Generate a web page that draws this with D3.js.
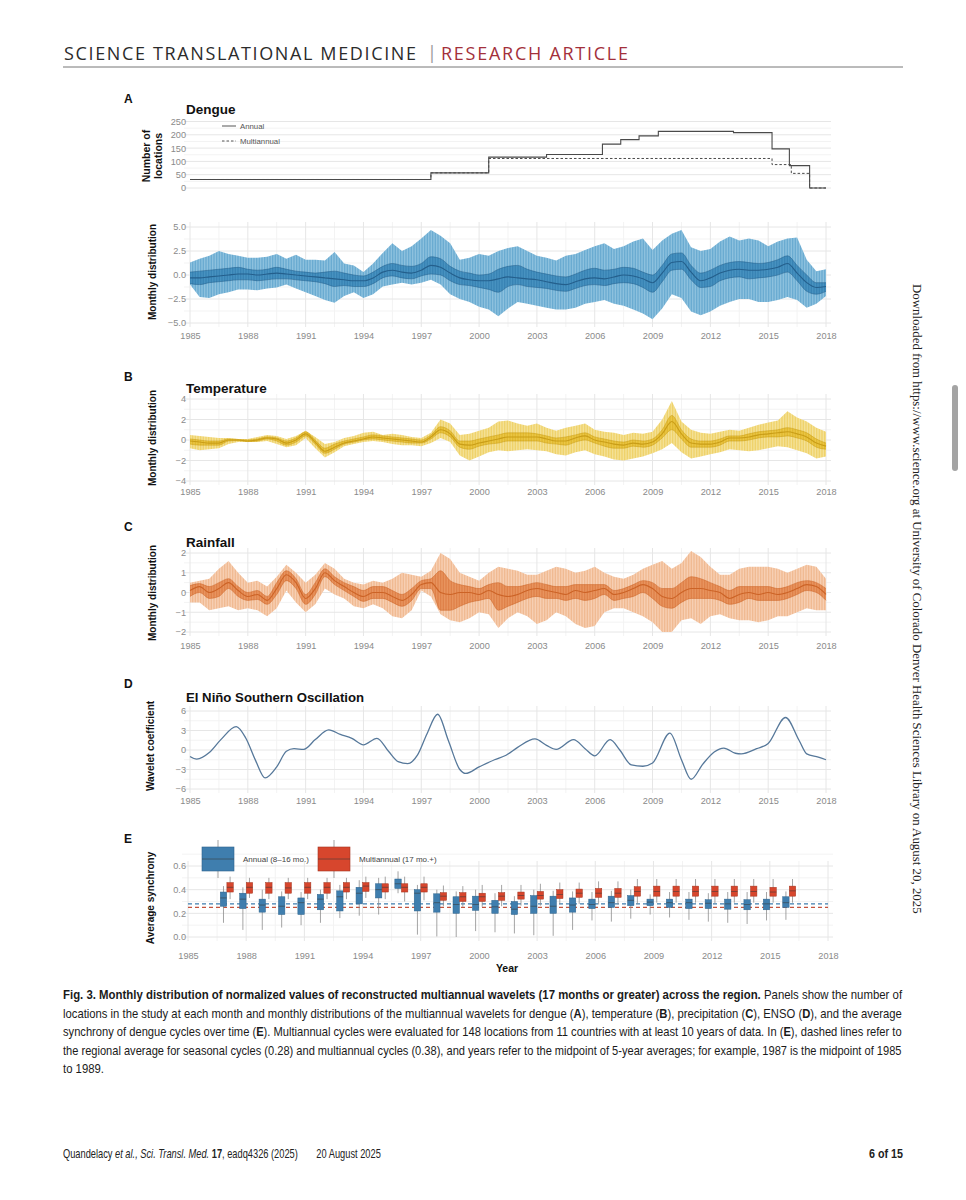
<!DOCTYPE html>
<html>
<head>
<meta charset="utf-8">
<script src="https://cdn.jsdelivr.net/npm/d3@7"></script>
<style>
  body { margin: 0; background: #fff; }
  svg { display: block; font-family: "Liberation Sans", Arial, sans-serif; }
</style>
</head>
<body>
<svg id="page" width="966" height="1200"></svg>
<script>
// ---- data ----
const YEAR_TICKS = [1985, 1988, 1991, 1994, 1997, 2000, 2003, 2006, 2009, 2012, 2015, 2018];
const SAMPLE_YEARS = d3.range(1985, 2018.25, 0.5); // half-year samples

// (A) number of locations, step changes
const LOC_ANNUAL_YEARS = [1985, 1997.5, 2000.5, 2003.5, 2006.4, 2007.35, 2008.3, 2009.3, 2013.2, 2015.2, 2016.1, 2017.15, 2018];
const LOC_ANNUAL = [32, 57, 116, 126, 165, 182, 196, 213, 208, 147, 84, 0, 0];
const LOC_MULTI_YEARS = [1985, 1997.5, 2000.5, 2015.2, 2016.2, 2017.15, 2018];
const LOC_MULTI = [32, 57, 111, 88, 55, 0, 0];

// (A) dengue monthly distribution (whisker low, q1, median, q3, whisker high)
const DENGUE_MAX = [
  1.3, 1.7, 2.0, 2.5, 2.2, 2.0, 1.8, 1.8, 1.9, 2.2, 1.7, 2.1,
  1.6, 1.6, 1.5, 2.4, 1.2, 1.0, 0.3, 1.2, 2.3, 3.3, 2.5, 3.0,
  3.8, 4.7, 4.1, 3.3, 1.6, 1.8, 2.2, 2.0, 2.5, 2.8, 3.0, 2.5,
  2.0, 1.8, 1.5, 2.0, 2.2, 2.6, 3.0, 3.3, 2.7, 3.0, 3.5, 3.8,
  2.6, 3.6, 4.3, 4.7, 2.9, 2.5, 2.7, 3.5, 4.0, 3.6, 3.8, 3.6,
  3.0, 3.5, 3.8, 3.9, 1.6, 0.4, 0.6];
const DENGUE_MIN = [
  -1.0, -2.3, -2.4, -2.0, -1.8, -1.5, -1.5, -1.6, -1.4, -1.3, -1.0, -1.4,
  -1.8, -2.2, -2.6, -2.9, -2.2, -1.8, -2.4, -2.0, -1.2, -1.0, -0.8, -1.0,
  -0.8, -0.5, -1.0, -2.0, -2.5, -2.8, -3.3, -3.6, -4.3, -3.5, -2.8, -3.0,
  -3.2, -3.4, -3.6, -3.6, -3.4, -3.0, -2.8, -2.6, -3.0, -3.2, -3.6, -4.0,
  -4.6, -3.5, -2.0, -2.4, -3.8, -4.2, -3.8, -3.2, -2.8, -2.5, -2.5, -2.8,
  -2.8, -2.6, -2.3, -2.6, -3.4, -3.0, -2.2];
const DENGUE_MED = [
  -0.3, -0.3, -0.2, -0.1, 0.0, 0.1, 0.1, 0.0, 0.1, 0.2, 0.1, 0.0,
  -0.1, -0.2, -0.3, -0.4, -0.5, -0.6, -0.6, -0.3, 0.3, 0.5, 0.3, 0.2,
  0.5, 1.0, 0.8, 0.2, -0.3, -0.5, -0.6, -0.6, -0.4, -0.2, -0.3, -0.4,
  -0.5, -0.7, -0.9, -1.0, -0.7, -0.4, -0.3, -0.4, -0.2, 0.0, -0.1, -0.4,
  -0.8, 0.2, 1.3, 1.4, 0.3, -0.6, -0.3, 0.2, 0.5, 0.6, 0.5, 0.5,
  0.6, 0.8, 1.2, 0.2, -0.8, -1.3, -1.2];
const DENGUE_Q3 = [
  0.3, 0.4, 0.5, 0.6, 0.7, 0.8, 0.6, 0.5, 0.6, 0.8, 0.6, 0.4,
  0.3, 0.2, 0.3, 0.4, 0.2, 0.0, -0.1, 0.3, 0.9, 1.2, 1.0, 0.9,
  1.2, 1.9, 1.7, 0.9, 0.4, 0.2, 0.0, 0.1, 0.6, 0.9, 1.0, 0.6,
  0.3, 0.1, -0.1, -0.2, 0.1, 0.5, 0.7, 0.5, 0.6, 0.8, 0.7, 0.3,
  0.0, 1.0, 2.2, 2.3, 1.0, 0.2, 0.5, 1.0, 1.3, 1.4, 1.3, 1.2,
  1.3, 1.6, 2.0, 1.0, 0.0, -0.8, -0.8];
const DENGUE_Q1 = [
  -0.9, -1.0, -0.8, -0.7, -0.6, -0.5, -0.5, -0.6, -0.5, -0.4, -0.4, -0.5,
  -0.6, -0.7, -0.9, -1.2, -1.1, -1.2, -1.2, -0.9, -0.3, -0.1, -0.3, -0.4,
  -0.1, 0.1, 0.0, -0.6, -1.0, -1.1, -1.3, -1.5, -1.8, -1.2, -1.0, -1.2,
  -1.3, -1.4, -1.6, -1.7, -1.4, -1.1, -1.0, -1.1, -0.9, -0.8, -0.9, -1.3,
  -1.8, -0.7, 0.5, 0.6, -0.5, -1.3, -1.2, -0.6, -0.3, -0.2, -0.4, -0.3,
  -0.2, 0.0, 0.3, -0.6, -1.7, -2.0, -1.7];

// (B) temperature
const TEMP_MAX = [
  0.5, 0.4, 0.3, 0.2, 0.2, 0.1, 0.1, 0.3, 0.5, 0.4, 0.1, 0.4,
  0.9, 0.3, -0.4, -0.2, 0.2, 0.4, 0.7, 0.8, 0.5, 0.6, 0.5, 0.3,
  0.2, 0.7, 2.0, 1.6, 0.5, 0.6, 0.9, 1.2, 1.8, 1.9, 1.6, 1.4,
  1.6, 1.2, 0.9, 1.2, 1.4, 1.6, 1.0, 0.8, 0.7, 0.5, 0.7, 0.6,
  0.8, 2.0, 3.8, 1.8, 1.0, 0.7, 0.6, 0.8, 1.0, 0.9, 1.2, 1.5,
  1.7, 1.9, 2.8, 2.2, 1.8, 1.2, 0.8];
const TEMP_MIN = [
  -0.8, -1.0, -0.9, -0.8, -0.4, -0.2, -0.2, -0.2, -0.1, -0.4, -0.7, -0.5,
  0.2, -0.8, -1.7, -1.2, -0.6, -0.4, -0.2, -0.1, -0.2, -0.4, -0.5, -0.5,
  -0.6, -0.3, 0.2, -0.2, -1.5, -2.0, -1.6, -1.2, -1.0, -1.1, -1.0, -0.9,
  -1.0, -1.1, -1.4, -1.5, -1.2, -1.0, -1.4, -1.6, -1.9, -2.0, -1.8, -1.6,
  -1.3, -0.9, -0.3, -1.2, -1.8, -1.6, -1.4, -1.2, -0.9, -1.0, -1.1, -1.0,
  -0.8, -0.6, -0.7, -1.0, -1.3, -1.8, -1.6];
const TEMP_MED = [
  -0.1, -0.2, -0.3, -0.3, 0.0, 0.0, -0.1, 0.0, 0.2, 0.1, -0.3, 0.0,
  0.6, -0.2, -1.1, -0.7, -0.3, -0.1, 0.1, 0.3, 0.2, 0.1, 0.0, -0.1,
  -0.2, 0.3, 1.0, 0.6, -0.4, -0.5, -0.3, -0.1, 0.1, 0.3, 0.3, 0.3,
  0.3, 0.1, -0.1, -0.1, 0.2, 0.4, 0.0, -0.2, -0.4, -0.5, -0.3, -0.4,
  -0.2, 0.6, 1.8, 0.6, -0.3, -0.4, -0.4, -0.2, 0.2, 0.2, 0.3, 0.5,
  0.6, 0.7, 0.8, 0.6, 0.3, -0.3, -0.6];
const TEMP_Q3 = [
  0.1, 0.0, -0.1, -0.1, 0.1, 0.05, 0.0, 0.1, 0.3, 0.2, -0.1, 0.2,
  0.8, 0.0, -0.8, -0.4, -0.1, 0.1, 0.3, 0.5, 0.4, 0.3, 0.2, 0.1,
  0.0, 0.5, 1.3, 0.9, -0.1, -0.1, 0.1, 0.3, 0.5, 0.7, 0.7, 0.7,
  0.6, 0.4, 0.2, 0.3, 0.5, 0.7, 0.3, 0.1, -0.1, -0.2, 0.0, -0.1,
  0.1, 1.0, 2.4, 1.0, 0.1, -0.1, -0.1, 0.1, 0.4, 0.4, 0.6, 0.8,
  0.9, 1.0, 1.2, 1.0, 0.7, 0.1, -0.3];
const TEMP_Q1 = [
  -0.4, -0.5, -0.5, -0.5, -0.1, -0.05, -0.15, -0.1, 0.1, -0.1, -0.5, -0.2,
  0.4, -0.4, -1.3, -0.9, -0.4, -0.2, 0.0, 0.1, 0.0, -0.1, -0.2, -0.3,
  -0.3, 0.1, 0.7, 0.3, -0.7, -0.9, -0.6, -0.4, -0.3, -0.1, -0.1, -0.1,
  -0.1, -0.3, -0.4, -0.5, -0.2, 0.0, -0.3, -0.6, -0.8, -0.8, -0.6, -0.7,
  -0.5, 0.2, 1.0, 0.1, -0.7, -0.7, -0.7, -0.5, -0.1, -0.1, 0.0, 0.2,
  0.3, 0.3, 0.4, 0.2, -0.1, -0.7, -0.9];

// (C) rainfall
const RAIN_MAX = [
  0.5, 0.6, 0.7, 1.2, 1.6, 1.0, 0.5, 0.6, 0.3, 0.8, 1.4, 1.0,
  0.5, 0.9, 1.5, 1.2, 0.7, 0.5, 0.4, 0.6, 0.5, 0.7, 1.0, 0.9,
  0.8, 1.1, 2.0, 1.7, 1.0, 0.8, 0.6, 1.0, 1.3, 1.2, 1.1, 0.9,
  0.9, 1.1, 1.3, 1.2, 1.0, 1.1, 1.3, 1.0, 0.8, 0.7, 0.9, 1.2,
  1.4, 1.6, 1.2, 1.5, 2.1, 1.8, 1.3, 0.9, 0.9, 1.2, 1.3, 1.3,
  1.3, 1.2, 1.0, 1.2, 1.4, 1.3, 0.7];
const RAIN_MIN = [
  -0.5, -0.5, -0.9, -0.8, -0.7, -0.9, -0.8, -0.9, -1.2, -0.8, 0.1, -0.5,
  -1.0, -0.6, 0.2, -0.1, -0.3, -0.7, -0.8, -0.6, -0.8, -1.2, -1.3, -0.9,
  0.1, -0.2, -1.1, -1.4, -1.5, -1.3, -1.0, -1.1, -1.8, -1.3, -1.0, -1.2,
  -1.6, -1.4, -1.0, -1.2, -1.6, -1.8, -1.7, -1.0, -0.8, -0.8, -1.0, -1.2,
  -1.5, -2.0, -2.0, -1.4, -1.3, -1.6, -1.2, -1.1, -1.3, -1.4, -1.4, -1.5,
  -1.4, -1.2, -1.2, -1.0, -0.8, -0.9, -0.9];
const RAIN_MED = [
  0.1, 0.3, 0.0, 0.2, 0.5, 0.1, -0.2, -0.1, -0.4, 0.2, 0.9, 0.5,
  -0.3, 0.2, 1.0, 0.6, 0.3, 0.0, -0.2, 0.0, 0.0, -0.2, -0.4, -0.1,
  0.4, 0.5, 0.0, -0.1, 0.0, 0.0, -0.1, 0.1, -0.1, -0.2, -0.1, 0.1,
  0.2, 0.1, 0.0, -0.1, 0.1, 0.0, 0.1, 0.2, -0.1, 0.0, 0.2, 0.4,
  0.2, -0.2, -0.3, 0.0, 0.2, 0.2, 0.1, 0.0, -0.3, -0.1, 0.0, -0.1,
  0.0, -0.1, 0.0, 0.2, 0.4, 0.3, -0.1];
const RAIN_Q3 = [
  0.35, 0.45, 0.3, 0.5, 0.7, 0.3, 0.0, 0.1, -0.2, 0.5, 1.1, 0.7,
  -0.1, 0.5, 1.2, 0.8, 0.5, 0.3, 0.1, 0.3, 0.3, 0.1, -0.1, 0.2,
  0.6, 0.7, 1.1, 0.6, 0.4, 0.3, 0.2, 0.4, 0.5, 0.3, 0.3, 0.4,
  0.5, 0.4, 0.3, 0.3, 0.4, 0.4, 0.4, 0.4, 0.1, 0.2, 0.4, 0.6,
  0.5, 0.2, 0.2, 0.5, 0.8, 0.7, 0.5, 0.3, 0.1, 0.3, 0.3, 0.3,
  0.3, 0.2, 0.3, 0.5, 0.6, 0.5, 0.2];
const RAIN_Q1 = [
  -0.2, 0.0, -0.3, -0.2, 0.2, -0.2, -0.4, -0.35, -0.6, -0.1, 0.6, 0.2,
  -0.6, -0.1, 0.8, 0.4, 0.1, -0.2, -0.45, -0.3, -0.3, -0.5, -0.7, -0.4,
  0.2, 0.2, -0.9, -0.9, -0.7, -0.5, -0.4, -0.3, -0.9, -0.7, -0.5, -0.3,
  -0.2, -0.3, -0.3, -0.4, -0.3, -0.4, -0.3, -0.1, -0.4, -0.3, -0.2, 0.0,
  -0.3, -0.7, -0.8, -0.5, -0.3, -0.3, -0.3, -0.4, -0.6, -0.5, -0.3, -0.4,
  -0.4, -0.4, -0.3, -0.1, 0.1, 0.0, -0.4];

// (D) ENSO wavelet coefficient, turning points and shoulders
const ENSO_YEARS = [1985.0, 1985.35, 1986.0, 1986.6, 1987.4, 1987.9, 1988.4, 1988.9, 1989.5, 1990.0,
  1990.4, 1990.9, 1991.5, 1992.2, 1992.8, 1993.4, 1994.0, 1994.7, 1995.3, 1995.8,
  1996.3, 1996.8, 1997.3, 1997.85, 1998.4, 1999.0, 1999.3, 2000.0, 2000.8, 2001.4,
  2002.0, 2002.9, 2003.5, 2004.0, 2004.9, 2005.5, 2006.0, 2006.8, 2007.3, 2007.9,
  2008.5, 2009.0, 2009.9, 2010.5, 2011.0, 2011.6, 2012.2, 2012.7, 2013.3, 2013.6,
  2014.4, 2015.0, 2015.9, 2016.6, 2017.0, 2017.6, 2018.0];
const ENSO_VALUES = [-1.0, -1.4, -0.4, 1.6, 3.6, 1.8, -1.6, -4.3, -2.6, -0.2,
  0.2, 0.1, 1.6, 3.1, 2.4, 1.8, 0.8, 1.8, -0.2, -1.8,
  -2.1, -0.8, 2.5, 5.5, 1.5, -3.0, -3.6, -2.6, -1.5, -0.8,
  0.4, 1.7, 0.7, 0.1, 1.6, 0.2, -0.9, 1.6, 0.0, -2.3,
  -2.5, -2.0, 2.6, -1.5, -4.5, -2.2, -0.3, 0.3, -0.5, -0.6,
  0.2, 1.0, 5.0, 1.5, -0.6, -1.1, -1.5];

// (E) average synchrony, 5-year windows (midpoint years)
const SYNC_YEARS = d3.range(1987, 2017);
const ANN_MIN = [0.12, 0.06, 0.06, 0.08, 0.10, 0.12, 0.16, 0.18, 0.19, 0.37, 0.02, 0.005, 0.0, 0.05, 0.04,
  0.03, 0.015, 0.01, 0.06, 0.14, 0.13, 0.155, 0.19, 0.165, 0.145, 0.13, 0.12, 0.11, 0.14, 0.145];
const ANN_Q1 = [0.26, 0.24, 0.21, 0.19, 0.19, 0.23, 0.22, 0.28, 0.33, 0.41, 0.22, 0.21, 0.20, 0.225, 0.20,
  0.19, 0.20, 0.20, 0.21, 0.24, 0.25, 0.265, 0.265, 0.25, 0.24, 0.24, 0.235, 0.23, 0.23, 0.25];
const ANN_MED = [0.33, 0.32, 0.27, 0.26, 0.29, 0.32, 0.34, 0.37, 0.40, 0.45, 0.37, 0.29, 0.275, 0.275, 0.255,
  0.235, 0.26, 0.26, 0.27, 0.275, 0.29, 0.31, 0.295, 0.29, 0.29, 0.285, 0.28, 0.275, 0.28, 0.29];
const ANN_Q3 = [0.38, 0.37, 0.32, 0.34, 0.33, 0.36, 0.39, 0.42, 0.45, 0.49, 0.40, 0.365, 0.34, 0.345, 0.31,
  0.30, 0.35, 0.345, 0.33, 0.32, 0.345, 0.35, 0.32, 0.32, 0.32, 0.315, 0.32, 0.315, 0.32, 0.34];
const ANN_MAX = [0.43, 0.42, 0.40, 0.385, 0.38, 0.40, 0.44, 0.48, 0.50, 0.555, 0.44, 0.40, 0.385, 0.40, 0.37,
  0.345, 0.40, 0.39, 0.385, 0.38, 0.39, 0.40, 0.36, 0.38, 0.38, 0.37, 0.38, 0.38, 0.38, 0.385];
const MUL_MIN = [0.32, 0.33, 0.32, 0.32, 0.32, 0.32, 0.32, 0.33, 0.32, 0.30, 0.31, 0.26, 0.255, 0.255, 0.26,
  0.265, 0.265, 0.275, 0.28, 0.275, 0.275, 0.28, 0.29, 0.29, 0.29, 0.285, 0.29, 0.29, 0.29, 0.29];
const MUL_Q1 = [0.38, 0.37, 0.37, 0.37, 0.37, 0.37, 0.38, 0.385, 0.38, 0.38, 0.38, 0.31, 0.30, 0.30, 0.31,
  0.32, 0.32, 0.325, 0.335, 0.335, 0.335, 0.345, 0.345, 0.345, 0.345, 0.345, 0.345, 0.345, 0.345, 0.345];
const MUL_MED = [0.42, 0.42, 0.42, 0.415, 0.42, 0.42, 0.42, 0.43, 0.42, 0.42, 0.42, 0.345, 0.34, 0.34, 0.345,
  0.35, 0.35, 0.36, 0.37, 0.37, 0.37, 0.385, 0.385, 0.385, 0.385, 0.385, 0.385, 0.385, 0.38, 0.39];
const MUL_Q3 = [0.46, 0.46, 0.46, 0.46, 0.46, 0.46, 0.46, 0.46, 0.45, 0.45, 0.45, 0.375, 0.375, 0.37, 0.375,
  0.38, 0.385, 0.40, 0.405, 0.41, 0.41, 0.425, 0.43, 0.43, 0.43, 0.43, 0.43, 0.43, 0.42, 0.43];
const MUL_MAX = [0.51, 0.50, 0.50, 0.50, 0.50, 0.50, 0.50, 0.51, 0.51, 0.51, 0.51, 0.435, 0.43, 0.44, 0.44,
  0.44, 0.45, 0.46, 0.46, 0.47, 0.47, 0.49, 0.49, 0.49, 0.49, 0.49, 0.49, 0.49, 0.49, 0.49];
const ANN_MEAN = 0.28;
const MUL_MEAN = 0.25;

// ---- page ----
const svg = d3.select('#page');
const defs = svg.append('defs');
const GRID = '#e6e6e6', GRID_MINOR = '#f3f3f3';
const TICK_COLOR = '#8a8a8a';

const x = d3.scaleLinear().domain([1985, 2018]).range([190, 826]);
const xE = d3.scaleLinear().domain([1985, 2018]).range([188, 828]);
const YEAR_MINOR = d3.pairs(YEAR_TICKS).map(([a, b]) => (a + b) / 2);

function stripes(id, base, stripe) {
  const p = defs.append('pattern').attr('id', id)
    .attr('patternUnits', 'userSpaceOnUse').attr('width', 1.6).attr('height', 10);
  p.append('rect').attr('width', 1.6).attr('height', 10).attr('fill', base);
  p.append('rect').attr('width', 0.8).attr('height', 10).attr('fill', stripe);
}
stripes('blue-light', '#93c5e0', '#64a7cf');
stripes('blue-dark', '#4a94c2', '#3580b2');
stripes('yel-light', '#f5e39c', '#eed064');
stripes('yel-dark', '#ebc847', '#dfb62c');
stripes('org-light', '#f8d3b8', '#efb68d');
stripes('org-dark', '#e99762', '#de7e45');

// squeeze a text horizontally to a measured width (keeps tspans together)
function fit(t, tx, ty, width, extra = '') {
  const w = t.node().getComputedTextLength();
  t.attr('x', 0).attr('y', 0)
    .attr('transform', `translate(${tx},${ty}) ${extra} scale(${width / w},1)`);
}

function panel({ xs, domain, range, ticks, minor, fmt, labelY, vGrid = true }) {
  const y = d3.scaleLinear().domain(domain).range(range);
  const g = svg.append('g');
  const left = xs(1985) - 6, right = xs(2018) + 5;
  const top = range[1] - 5, bottom = range[0] + 4;

  g.selectAll('line.hmin').data(minor).join('line').attr('class', 'hmin')
    .attr('x1', left).attr('x2', right).attr('y1', d => y(d)).attr('y2', d => y(d))
    .attr('stroke', GRID_MINOR);
  if (vGrid) {
    g.selectAll('line.vmin').data(YEAR_MINOR).join('line').attr('class', 'vmin')
      .attr('x1', d => xs(d)).attr('x2', d => xs(d)).attr('y1', top).attr('y2', bottom)
      .attr('stroke', GRID_MINOR);
    g.selectAll('line.vmaj').data(YEAR_TICKS).join('line').attr('class', 'vmaj')
      .attr('x1', d => xs(d)).attr('x2', d => xs(d)).attr('y1', top).attr('y2', bottom)
      .attr('stroke', GRID);
  }
  g.selectAll('line.hmaj').data(ticks).join('line').attr('class', 'hmaj')
    .attr('x1', left).attr('x2', right).attr('y1', d => y(d)).attr('y2', d => y(d))
    .attr('stroke', GRID);

  const ya = g.append('g').attr('transform', 'translate(189,0)')
    .call(d3.axisLeft(y).tickValues(ticks).tickSize(0).tickPadding(3).tickFormat(fmt));
  ya.select('.domain').remove();
  ya.selectAll('text').attr('font-size', 9.2).attr('fill', TICK_COLOR)
    .attr('font-family', '"Liberation Sans", Arial, sans-serif');

  if (labelY) {
    const xa = g.append('g').attr('transform', `translate(0,${labelY - 6.3})`)
      .call(d3.axisBottom(xs).tickValues(YEAR_TICKS).tickSize(0).tickPadding(3).tickFormat(d3.format('d')));
    xa.select('.domain').remove();
    xa.selectAll('text').attr('font-size', 9.2).attr('fill', TICK_COLOR)
      .attr('font-family', '"Liberation Sans", Arial, sans-serif');
  }
  return { g, y };
}

function yTitle(lines, cx, cy, size = 10) {
  const t = svg.append('text')
    .attr('transform', `translate(${cx},${cy}) rotate(-90)`)
    .attr('text-anchor', 'middle').attr('font-weight', 'bold')
    .attr('font-size', size).attr('fill', '#111');
  lines.forEach((l, i) => t.append('tspan').attr('x', 0).attr('dy', i ? '1.1em' : 0).text(l));
}

function label(txt, xp, yp, size, weight = 'bold', color = '#111') {
  return svg.append('text').attr('x', xp).attr('y', yp).attr('font-size', size)
    .attr('font-weight', weight).attr('fill', color).text(txt);
}

function bands(y, lo, q1, med, q3, hi, light, dark, edge) {
  const rows = SAMPLE_YEARS.map((yr, i) => ({ yr, lo: lo[i], q1: q1[i], med: med[i], q3: q3[i], hi: hi[i] }));
  const g = svg.append('g');
  g.append('path').datum(rows)
    .attr('d', d3.area().x(d => x(d.yr)).y0(d => y(d.lo)).y1(d => y(d.hi)))
    .attr('fill', `url(#${light})`);
  g.append('path').datum(rows)
    .attr('d', d3.area().curve(d3.curveMonotoneX).x(d => x(d.yr)).y0(d => y(d.q1)).y1(d => y(d.q3)))
    .attr('fill', `url(#${dark})`);
  ['q1', 'q3'].forEach(k => {
    g.append('path').datum(rows)
      .attr('d', d3.line().curve(d3.curveMonotoneX).x(d => x(d.yr)).y(d => y(d[k])))
      .attr('fill', 'none').attr('stroke', edge).attr('stroke-width', 0.7).attr('opacity', 0.75);
  });
  g.append('path').datum(rows)
    .attr('d', d3.line().curve(d3.curveMonotoneX).x(d => x(d.yr)).y(d => y(d.med)))
    .attr('fill', 'none').attr('stroke', edge).attr('stroke-width', 1.1);
}

// header
const HEAD_FONT = '"Open Sans", "Liberation Sans", sans-serif';
label('SCIENCE TRANSLATIONAL MEDICINE', 64, 60, 18, 'normal', '#2b2b2b')
  .style('font-family', HEAD_FONT).attr('textLength', 352).attr('lengthAdjust', 'spacing');
label('|', 427, 59, 18, 'normal', '#9a9a9a').style('font-family', HEAD_FONT);
label('RESEARCH ARTICLE', 441, 60, 18, 'normal', '#a3303b')
  .style('font-family', HEAD_FONT).attr('textLength', 187).attr('lengthAdjust', 'spacing');
svg.append('line').attr('x1', 63).attr('x2', 903).attr('y1', 67).attr('y2', 67)
  .attr('stroke', '#777').attr('stroke-width', 1);

// (A) top: number of locations
label('A', 124, 103, 12);
label('Dengue', 186, 114, 13.5);
const pA = panel({ xs: x, domain: [0, 250], range: [188, 121.5], ticks: [0, 50, 100, 150, 200, 250],
  minor: [25, 75, 125, 175, 225], fmt: d3.format('d'), vGrid: false });
const stepLine = d3.line().curve(d3.curveStepAfter).x(d => x(d[0])).y(d => pA.y(d[1]));
svg.append('path').datum(d3.zip(LOC_ANNUAL_YEARS, LOC_ANNUAL)).attr('d', stepLine)
  .attr('fill', 'none').attr('stroke', '#4a4a4a').attr('stroke-width', 1.1);
svg.append('path').datum(d3.zip(LOC_MULTI_YEARS, LOC_MULTI)).attr('d', stepLine)
  .attr('fill', 'none').attr('stroke', '#4a4a4a').attr('stroke-width', 1).attr('stroke-dasharray', '2.5,2');
svg.append('line').attr('x1', 222).attr('x2', 236).attr('y1', 126).attr('y2', 126).attr('stroke', '#555');
svg.append('line').attr('x1', 222).attr('x2', 236).attr('y1', 141).attr('y2', 141)
  .attr('stroke', '#555').attr('stroke-dasharray', '2.5,2');
label('Annual', 240, 128.5, 7.8, 'normal', '#555');
label('Multiannual', 240, 143.5, 7.8, 'normal', '#555');
yTitle(['Number of', 'locations'], 150, 156, 10.5);

// (A) bottom: dengue distribution
const pD = panel({ xs: x, domain: [-5, 5], range: [323, 227], ticks: [-5, -2.5, 0, 2.5, 5],
  minor: [-3.75, -1.25, 1.25, 3.75], fmt: d3.format('.1f'), labelY: 336 });
bands(pD.y, DENGUE_MIN, DENGUE_Q1, DENGUE_MED, DENGUE_Q3, DENGUE_MAX, 'blue-light', 'blue-dark', '#245f8c');
yTitle(['Monthly distribution'], 156, 272);

// (B) temperature
label('B', 124, 381, 12);
label('Temperature', 186, 393, 13.5);
const pT = panel({ xs: x, domain: [-4, 4], range: [481, 399], ticks: [-4, -2, 0, 2, 4],
  minor: [-3, -1, 1, 3], fmt: d3.format('d'), labelY: 492 });
bands(pT.y, TEMP_MIN, TEMP_Q1, TEMP_MED, TEMP_Q3, TEMP_MAX, 'yel-light', 'yel-dark', '#c99d17');
yTitle(['Monthly distribution'], 156, 438);

// (C) rainfall
label('C', 124, 531, 12);
label('Rainfall', 186, 547, 13.5);
const pR = panel({ xs: x, domain: [-2, 2], range: [632, 553], ticks: [-2, -1, 0, 1, 2],
  minor: [-1.5, -0.5, 0.5, 1.5], fmt: d3.format('d'), labelY: 646 });
bands(pR.y, RAIN_MIN, RAIN_Q1, RAIN_MED, RAIN_Q3, RAIN_MAX, 'org-light', 'org-dark', '#cc6326');
yTitle(['Monthly distribution'], 156, 593);

// (D) ENSO
label('D', 124, 688, 12);
label('El Niño Southern Oscillation', 186, 702, 13.2);
const pE = panel({ xs: x, domain: [-6, 6], range: [789, 711], ticks: [-6, -3, 0, 3, 6],
  minor: [-4.5, -1.5, 1.5, 4.5], fmt: d3.format('d'), labelY: 801 });
svg.append('path').datum(d3.zip(ENSO_YEARS, ENSO_VALUES))
  .attr('d', d3.line().curve(d3.curveMonotoneX).x(d => x(d[0])).y(d => pE.y(d[1])))
  .attr('fill', 'none').attr('stroke', '#56789a').attr('stroke-width', 1.3);
yTitle(['Wavelet coefficient'], 154, 746);

// (E) synchrony
label('E', 124, 843, 12);
const pS = panel({ xs: xE, domain: [0, 0.6], range: [937, 866], ticks: [0, 0.2, 0.4, 0.6],
  minor: [0.1, 0.3, 0.5, 0.7], fmt: d3.format('.1f'), labelY: 956 });
const yE = pS.y;
svg.append('line').attr('x1', xE(1985)).attr('x2', xE(2018)).attr('y1', yE(ANN_MEAN)).attr('y2', yE(ANN_MEAN))
  .attr('stroke', '#3f7eae').attr('stroke-width', 1.4).attr('stroke-dasharray', '4,3');
svg.append('line').attr('x1', xE(1985)).attr('x2', xE(2018)).attr('y1', yE(MUL_MEAN)).attr('y2', yE(MUL_MEAN))
  .attr('stroke', '#c4533c').attr('stroke-width', 1.4).attr('stroke-dasharray', '4,3');

const BOX_W = 6.4;
function boxes(cls, dx, mn, q1, md, q3, mx, fill, stroke) {
  const rows = SYNC_YEARS.map((yr, i) => ({ yr, mn: mn[i], q1: q1[i], md: md[i], q3: q3[i], mx: mx[i] }));
  const g = svg.append('g').attr('class', cls);
  const b = g.selectAll('g').data(rows).join('g')
    .attr('transform', d => `translate(${xE(d.yr) + dx},0)`);
  b.append('line').attr('y1', d => yE(d.mx)).attr('y2', d => yE(d.mn))
    .attr('stroke', '#8d8d8d').attr('stroke-width', 0.8);
  b.append('rect').attr('x', -BOX_W / 2).attr('width', BOX_W)
    .attr('y', d => yE(d.q3)).attr('height', d => yE(d.q1) - yE(d.q3))
    .attr('fill', fill).attr('stroke', stroke).attr('stroke-width', 0.5);
  b.append('line').attr('x1', -BOX_W / 2).attr('x2', BOX_W / 2)
    .attr('y1', d => yE(d.md)).attr('y2', d => yE(d.md))
    .attr('stroke', '#3a3a3a').attr('stroke-width', 0.8).attr('opacity', 0.7);
}
boxes('annual', -3.3, ANN_MIN, ANN_Q1, ANN_MED, ANN_Q3, ANN_MAX, '#3f7eae', '#2c628c');
boxes('multi', 3.3, MUL_MIN, MUL_Q1, MUL_MED, MUL_Q3, MUL_MAX, '#d7462d', '#a3341f');

// legend (E)
[[202, '#3f7eae', '#2c628c', 'Annual (8–16 mo.)'], [318, '#d7462d', '#a3341f', 'Multiannual (17 mo.+)']]
  .forEach(([lx, fill, stroke, txt]) => {
    svg.append('line').attr('x1', lx + 16).attr('x2', lx + 16).attr('y1', 840).attr('y2', 878)
      .attr('stroke', '#8d8d8d').attr('stroke-width', 0.8);
    svg.append('rect').attr('x', lx).attr('y', 847).attr('width', 32).attr('height', 24)
      .attr('fill', fill).attr('stroke', stroke).attr('stroke-width', 0.6);
    svg.append('line').attr('x1', lx).attr('x2', lx + 32).attr('y1', 859).attr('y2', 859)
      .attr('stroke', '#3a3a3a').attr('stroke-width', 0.8).attr('opacity', 0.7);
    label(txt, lx + 41, 862, 8, 'normal', '#444');
  });
yTitle(['Average synchrony'], 154, 898);
label('Year', 507, 972, 10.5).attr('text-anchor', 'middle');

// caption
const CAPTION = [
  [['b', 'Fig. 3. Monthly distribution of normalized values of reconstructed multiannual wavelets (17 months or greater) across the region.'], ['', ' Panels show the number of']],
  [['', 'locations in the study at each month and monthly distributions of the multiannual wavelets for dengue ('], ['b', 'A'], ['', '), temperature ('], ['b', 'B'], ['', '), precipitation ('], ['b', 'C'], ['', '), ENSO ('], ['b', 'D'], ['', '), and the average']],
  [['', 'synchrony of dengue cycles over time ('], ['b', 'E'], ['', '). Multiannual cycles were evaluated for 148 locations from 11 countries with at least 10 years of data. In ('], ['b', 'E'], ['', '), dashed lines refer to']],
  [['', 'the regional average for seasonal cycles (0.28) and multiannual cycles (0.38), and years refer to the midpoint of 5-year averages; for example, 1987 is the midpoint of 1985']],
  [['', 'to 1989.']]
];
CAPTION.forEach((parts, i) => {
  const t = svg.append('text').attr('font-size', 12.5).attr('fill', '#1a1a1a');
  parts.forEach(([w, s]) => t.append('tspan').attr('font-weight', w === 'b' ? 'bold' : 'normal').text(s));
  fit(t, 63, 999 + i * 18.5, i < 4 ? 840 : 41);
});

// footer
const foot = svg.append('text').attr('font-size', 12).attr('fill', '#222');
foot.append('tspan').text('Quandelacy ');
foot.append('tspan').attr('font-style', 'italic').text('et al., Sci. Transl. Med.');
foot.append('tspan').attr('font-weight', 'bold').text(' 17');
foot.append('tspan').text(', eadq4326 (2025)\u2003\u200320 August 2025');
fit(foot, 63, 1158, 318);
const pageNo = label('6 of 15', 0, 0, 12, 'bold', '#222');
fit(pageNo, 869, 1158, 34);

// side note and scrollbar
const side = label('Downloaded from https://www.science.org at University of Colorado Denver Health Sciences Library on August 20, 2025',
  0, 0, 13, 'normal', '#222').style('font-family', '"Liberation Serif", "Times New Roman", serif');
fit(side, 913, 284, 630, 'rotate(90)');
svg.append('rect').attr('x', 952).attr('y', 385).attr('width', 6).attr('height', 86).attr('rx', 3)
  .attr('fill', '#a4a4a4');
</script>
</body>
</html>
